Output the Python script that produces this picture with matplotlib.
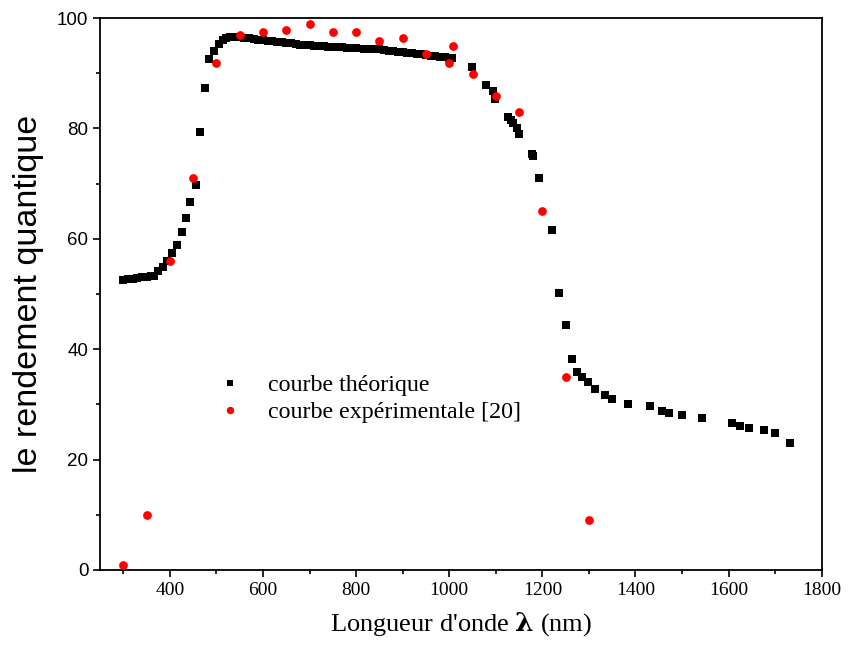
import matplotlib
matplotlib.use("Agg")
import matplotlib.pyplot as plt
from matplotlib.ticker import MultipleLocator

plt.rcParams["mathtext.fontset"] = "custom"
plt.rcParams["mathtext.bf"] = "DejaVu Serif:bold"
plt.rcParams["mathtext.rm"] = "Liberation Serif"
plt.rcParams["mathtext.it"] = "Liberation Serif:italic"

# Theoretical curve (black squares)
theo_x = [300, 310, 320, 330, 340, 350, 360, 366, 375, 385, 394, 405, 415, 425, 435, 444, 455,
          464, 475, 485, 494, 505, 514,
          520, 530, 540, 550, 560, 570, 580, 590, 600, 610, 620, 630, 640, 650, 660, 670, 680,
          690, 700, 710, 720, 730, 740, 750, 760, 770, 780, 790, 800,
          817, 830, 840, 850, 860, 870, 880, 890, 900, 910, 920, 930, 940, 950, 960, 970, 980,
          990, 1000, 1005,
          1048, 1080, 1093, 1099, 1127, 1132, 1138, 1145, 1150, 1177, 1180, 1193, 1221, 1236,
          1250, 1263, 1275, 1286, 1299, 1313, 1334, 1349, 1384, 1431, 1456, 1471, 1499, 1542,
          1607, 1625, 1643, 1676, 1699, 1731]
theo_y = [52.6, 52.7, 52.8, 52.9, 53.0, 53.1, 53.2, 53.3, 54.2, 54.9, 55.9, 57.4, 58.8, 61.2, 63.7, 66.6, 69.7,
          79.3, 87.3, 92.6, 94.0, 95.3, 96.1,
          96.4, 96.5, 96.5, 96.5, 96.4, 96.3, 96.2, 96.1, 96.0, 95.9, 95.8, 95.7, 95.6, 95.5, 95.4, 95.3, 95.2,
          95.1, 95.1, 95.0, 95.0, 94.9, 94.8, 94.8, 94.7, 94.7, 94.6, 94.6, 94.5,
          94.4, 94.4, 94.3, 94.3, 94.2, 94.1, 94.0, 93.9, 93.8, 93.7, 93.6, 93.5, 93.4, 93.3, 93.2, 93.1, 93.0,
          92.9, 92.8, 92.7,
          91.1, 87.9, 86.7, 85.3, 82.1, 81.5, 80.9, 80.0, 79.0, 75.4, 75.0, 71.0, 61.6, 50.1,
          44.3, 38.3, 35.8, 35.0, 34.0, 32.8, 31.7, 30.9, 30.1, 29.7, 28.8, 28.4, 28.0, 27.5,
          26.7, 26.0, 25.8, 25.3, 24.9, 23.0]

# Experimental curve (red circles)
exp_x = [300, 350, 400, 450, 500, 550, 600, 650, 700, 750, 800, 850, 900, 950, 1000, 1009,
         1050, 1100, 1150, 1200, 1250, 1300]
exp_y = [0.9, 9.9, 55.9, 71.0, 91.9, 96.9, 97.4, 97.8, 98.9, 97.4, 97.4, 95.9, 96.4, 93.4, 91.9, 94.9,
         89.9, 85.9, 82.9, 65.0, 34.9, 9.0]

x_ticks = [400, 600, 800, 1000, 1200, 1400, 1600, 1800]
y_ticks = [0, 20, 40, 60, 80, 100]

fig = plt.figure(figsize=(8.48, 6.55), dpi=100)
ax = fig.add_axes([0.118, 0.1298, 0.851, 0.8427])

ax.plot(theo_x, theo_y, linestyle="none", marker="s", markersize=5.4, color="black",
        markeredgewidth=0, label="courbe théorique")
ax.plot(exp_x, exp_y, linestyle="none", marker="o", markersize=6.3, color="#ff0000",
        markeredgewidth=0, label="courbe expérimentale [20]", zorder=3)

ax.set_xlim(250, 1800)
ax.set_ylim(0, 100)
ax.set_xticks(x_ticks)
ax.set_yticks(y_ticks)
ax.xaxis.set_minor_locator(MultipleLocator(100))
ax.yaxis.set_minor_locator(MultipleLocator(10))

for s in ax.spines.values():
    s.set_linewidth(1.3)

ax.tick_params(which="major", direction="out", length=5, width=1.2, top=False, right=False)
ax.tick_params(which="minor", direction="out", length=3, width=1.2, top=False, right=False)

for lab in ax.get_xticklabels():
    lab.set_fontfamily("Liberation Serif")
    lab.set_fontsize(14)
for lab in ax.get_yticklabels():
    lab.set_fontfamily("Liberation Sans")
    lab.set_fontsize(13.5)

ax.set_ylabel("le rendement quantique", fontfamily="Liberation Sans", fontsize=24.5, labelpad=9)
ax.set_xlabel(r"Longueur d'onde $\mathbf{\lambda}$ (nm)", fontfamily="Liberation Serif",
              fontsize=19, labelpad=8)

leg = ax.legend(loc="center left", bbox_to_anchor=(0.133, 0.31), frameon=False,
                prop={"family": "Liberation Serif", "size": 17.3}, handlelength=1.0,
                handletextpad=1.1, labelspacing=0.2, markerscale=0.85)

fig.savefig("out.png", dpi=100)
